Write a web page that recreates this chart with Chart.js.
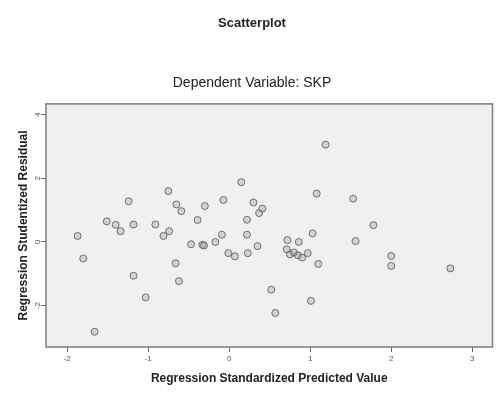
<!DOCTYPE html>
<html>
<head>
<meta charset="utf-8">
<script src="https://cdn.jsdelivr.net/npm/chart.js@4.4.0/dist/chart.umd.min.js"></script>
<style>
  html, body { margin: 0; padding: 0; background: #ffffff; }
  #wrap { width: 497px; height: 394px; }
</style>
</head>
<body>
<div id="wrap"><canvas id="c" width="497" height="394"></canvas></div>
<script>
// Regression Standardized Predicted Value
const predictedValues = [
  -1.87, -1.80, -1.66, -1.51, -1.40, -1.34, -1.24, -1.18, -1.18, -1.03,
  -0.91, -0.81, -0.74, -0.75, -0.65, -0.59, -0.66, -0.62, -0.47, -0.39,
  -0.33, -0.31, -0.30, -0.17, -0.09, -0.07, -0.01, 0.07, 0.15, 0.22,
  0.22, 0.23, 0.30, 0.35, 0.37, 0.41, 0.52, 0.57, 0.71, 0.72,
  0.75, 0.80, 0.85, 0.86, 0.90, 0.97, 1.01, 1.03, 1.08, 1.10,
  1.19, 1.53, 1.56, 1.78, 2.00, 2.00, 2.73
];
// Regression Studentized Residual
const studentizedResiduals = [
  0.19, -0.52, -2.82, 0.65, 0.54, 0.34, 1.28, 0.55, -1.06, -1.74,
  0.55, 0.19, 0.34, 1.60, 1.18, 0.97, -0.67, -1.23, -0.07, 0.69,
  -0.09, -0.11, 1.13, 0.00, 0.23, 1.32, -0.35, -0.45, 1.88, 0.70,
  0.23, -0.35, 1.24, -0.13, 0.91, 1.05, -1.50, -2.23, -0.23, 0.06,
  -0.39, -0.33, -0.42, 0.00, -0.49, -0.35, -1.85, 0.27, 1.52, -0.69,
  3.06, 1.36, 0.03, 0.53, -0.44, -0.75, -0.83
];
const xTickValues = [-2, -1, 0, 1, 2, 3];
const yTickValues = [-2, 0, 2, 4];
const chartTitle = 'Scatterplot';
const chartSubtitle = 'Dependent Variable: SKP';
const xAxisTitle = 'Regression Standardized Predicted Value';
const yAxisTitle = 'Regression Studentized Residual';

const points = predictedValues.map((x, i) => ({ x: x, y: studentizedResiduals[i] }));
const FONT = "'Liberation Sans', Arial, sans-serif";

const framePlugin = {
  id: 'frame',
  beforeDatasetsDraw(chart) {
    const { ctx, chartArea: a } = chart;
    ctx.save();
    ctx.fillStyle = '#f0f0f0';
    ctx.fillRect(a.left, a.top, a.right - a.left, a.bottom - a.top);
    ctx.strokeStyle = '#7d7d7d';
    ctx.lineWidth = 1.5;
    ctx.strokeRect(a.left, a.top, a.right - a.left, a.bottom - a.top);
    ctx.restore();
  }
};

new Chart(document.getElementById('c'), {
  type: 'scatter',
  data: {
    datasets: [{
      data: points,
      pointRadius: 3.5,
      pointHoverRadius: 3.5,
      pointBorderWidth: 1,
      borderColor: 'rgba(85,85,85,0.8)',
      backgroundColor: 'rgba(165,165,165,0.4)'
    }]
  },
  plugins: [framePlugin],
  options: {
    responsive: false,
    animation: false,
    devicePixelRatio: 1,
    layout: { padding: { left: 9, right: 2, top: 0, bottom: 0 } },
    plugins: {
      legend: { display: false },
      tooltip: { enabled: false },
      title: {
        display: true,
        text: chartTitle,
        color: '#222',
        font: { family: FONT, size: 13, weight: 'bold', lineHeight: 1.2 },
        padding: { top: 16, bottom: 0 }
      },
      subtitle: {
        display: true,
        text: chartSubtitle,
        color: '#222',
        font: { family: FONT, size: 14, weight: 'normal', lineHeight: 1.2 },
        padding: { top: 43, bottom: 12.5 }
      }
    },
    scales: {
      x: {
        type: 'linear',
        position: 'bottom',
        min: -2.26,
        max: 3.25,
        afterFit(s) { s.height = 47; },
        afterBuildTicks(s) { s.ticks = xTickValues.map(v => ({ value: v })); },
        border: { display: false },
        grid: { display: true, drawOnChartArea: false, drawTicks: true, tickLength: 5, tickColor: '#6a6a6a', tickWidth: 1 },
        ticks: { color: '#555', font: { family: FONT, size: 8 }, padding: 2, maxRotation: 0, minRotation: 0 },
        title: {
          display: true,
          text: xAxisTitle,
          color: '#222',
          font: { family: FONT, size: 12, weight: 'bold', lineHeight: 1.2 },
          padding: { top: 0, bottom: 8 }
        }
      },
      y: {
        type: 'linear',
        position: 'left',
        min: -3.30,
        max: 4.34,
        afterFit(s) { s.width = 37; },
        afterBuildTicks(s) { s.ticks = yTickValues.map(v => ({ value: v })); },
        border: { display: false },
        grid: { display: true, drawOnChartArea: false, drawTicks: true, tickLength: 5, tickColor: '#6a6a6a', tickWidth: 1 },
        ticks: { color: '#555', font: { family: FONT, size: 8 }, padding: 0, minRotation: 90, maxRotation: 90, crossAlign: 'center' },
        title: {
          display: true,
          text: yAxisTitle,
          color: '#222',
          font: { family: FONT, size: 12, weight: 'bold', lineHeight: 1.2 },
          padding: { top: 7, bottom: 0 }
        }
      }
    }
  }
});
</script>
</body>
</html>
